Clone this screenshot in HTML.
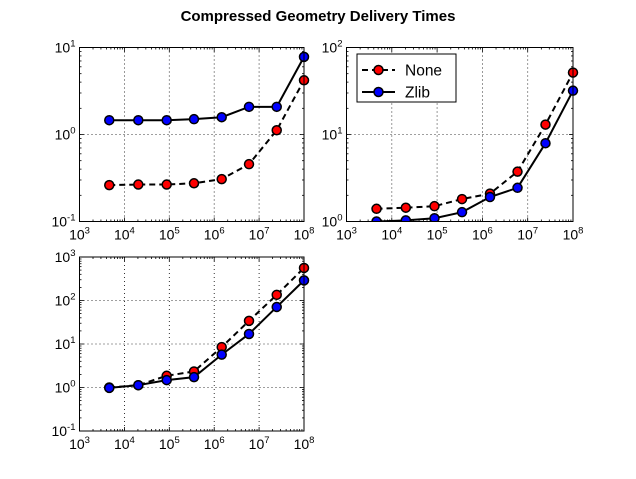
<!DOCTYPE html>
<html><head><meta charset="utf-8"><style>
body{margin:0;background:#fff}
svg{display:block;font-family:"Liberation Sans","DejaVu Sans",sans-serif}
</style></head><body>
<svg id="fig" width="636" height="479" viewBox="0 0 636 479" xmlns="http://www.w3.org/2000/svg">
<rect width="636" height="479" fill="#fff"/>
<text x="318" y="21" text-anchor="middle" font-size="15" font-weight="bold">Compressed Geometry Delivery Times</text>
</svg>
<script>
const sizes = [4600, 20400, 87500, 355000, 1470000, 5960000, 24700000, 100000000];
const p1None = [0.262, 0.266, 0.266, 0.275, 0.307, 0.456, 1.12, 4.2];
const p1Zlib = [1.46, 1.46, 1.46, 1.50, 1.58, 2.08, 2.08, 7.8];
const p2None = [1.40, 1.44, 1.50, 1.81, 2.09, 3.74, 13.0, 51.5];
const p2Zlib = [1.0, 1.03, 1.09, 1.28, 1.91, 2.44, 7.94, 31.9];
const p3None = [1.0, 1.13, 1.86, 2.34, 8.5, 34, 135, 560];
const p3Zlib = [0.98, 1.13, 1.48, 1.73, 5.7, 17, 71, 290];
const xDecades = [3, 4, 5, 6, 7, 8];
const NS = "http://www.w3.org/2000/svg";
const svg = document.getElementById('fig');
function mk(tag, attrs, parent) {
  const e = document.createElementNS(NS, tag);
  for (const k in attrs) e.setAttribute(k, attrs[k]);
  (parent || svg).appendChild(e);
  return e;
}
function panel(name, L, R, T, B, yMin, yMax, none, zlib, legend) {
  const g = mk('g', {});
  
  
  const xs = v => L + (Math.log10(v) - 3) / 5 * (R - L);
  const ys = v => B - (Math.log10(v) - yMin) / (yMax - yMin) * (B - T);
  xDecades.forEach(d => {
    const x = xs(Math.pow(10, d));
    if (d > 3 && d < 8) { const ln = mk('line', {x1: x, x2: x, y1: T, y2: B, stroke: '#000', 'stroke-width': 0.8, 'stroke-dasharray': '1,3'}, g);   }
  });
  for (let d = yMin + 1; d < yMax; d++) {
    const y = ys(Math.pow(10, d));
    const ln = mk('line', {x1: L, x2: R, y1: y, y2: y, stroke: '#000', 'stroke-width': 0.8, 'stroke-dasharray': '1,3'}, g);
     
  }
  for (let d = 3; d <= 8; d++) {
    for (let m = 1; m <= 9; m++) {
      if (d === 8 && m > 1) break;
      const x = xs(m * Math.pow(10, d));
      const len = m === 1 ? 4 : 2;
      mk('line', {x1: x, x2: x, y1: B, y2: B - len, stroke: '#000', 'stroke-width': 0.8}, g);
      mk('line', {x1: x, x2: x, y1: T, y2: T + len, stroke: '#000', 'stroke-width': 0.8}, g);
    }
    const t = mk('text', {x: xs(Math.pow(10, d)), y: B + 18, 'text-anchor': 'middle', 'font-size': 14}, g);
     
    t.innerHTML = '10<tspan dy="-6" font-size="9.5">' + d + '</tspan>';
  }
  for (let d = yMin; d <= yMax; d++) {
    for (let m = 1; m <= 9; m++) {
      if (d === yMax && m > 1) break;
      const y = ys(m * Math.pow(10, d));
      const len = m === 1 ? 4 : 2;
      mk('line', {x1: L, x2: L + len, y1: y, y2: y, stroke: '#000', 'stroke-width': 0.8}, g);
      mk('line', {x1: R, x2: R - len, y1: y, y2: y, stroke: '#000', 'stroke-width': 0.8}, g);
    }
    const t = mk('text', {x: L - 4, y: ys(Math.pow(10, d)) + 5, 'text-anchor': 'end', 'font-size': 14}, g);
     
    t.innerHTML = '10<tspan dy="-6" font-size="9.5">' + d + '</tspan>';
  }
  const cid = 'c' + name;
  const cp = mk('clipPath', {id: cid}, g);
  mk('rect', {x: L - 6, y: T - 6, width: R - L + 12, height: B - T + 6}, cp);
  function series(vals, color, dash, sname) {
    const sg = mk('g', {'clip-path': 'url(#' + cid + ')'}, g);
    
    
    const pts = sizes.map((s, i) => xs(s) + ',' + ys(vals[i])).join(' ');
    mk('polyline', {points: pts, fill: 'none', stroke: '#000', 'stroke-width': 2, 'stroke-dasharray': dash}, sg);
    sizes.forEach((s, i) => {
      const c = mk('circle', {cx: xs(s), cy: ys(vals[i]), r: 4.5, fill: color, stroke: '#000', 'stroke-width': 1.5}, sg);
      
      
    });
  }
  series(none, '#f00', '6,4', 'none-series');
  series(zlib, '#00f', 'none', 'zlib-series');
  const fr = mk('rect', {x: L, y: T, width: R - L, height: B - T, fill: 'none', stroke: '#000', 'stroke-width': 1}, g);
   
  if (legend) {
    const lg = mk('g', {}, g);
    
    
    mk('rect', {x: 357, y: 54, width: 99, height: 48, fill: '#fff', stroke: '#000', 'stroke-width': 1}, lg);
    [['None', '#f00', '6,4', 70], ['Zlib', '#00f', 'none', 92]].forEach(r => {
      const e = mk('g', {}, lg);
      
      
      mk('line', {x1: 362, x2: 395, y1: r[3], y2: r[3], stroke: '#000', 'stroke-width': 2, 'stroke-dasharray': r[2]}, e);
      mk('circle', {cx: 378.5, cy: r[3], r: 4.5, fill: r[1], stroke: '#000', 'stroke-width': 1.5}, e);
      const t = mk('text', {x: 405, y: r[3] + 5.5, 'font-size': 15.5}, e);
      t.textContent = r[0];
    });
  }
}
panel('subplot-top-left', 79.5, 304, 47.5, 221.5, -1, 1, p1None, p1Zlib, false);
panel('subplot-top-right', 346.5, 573, 47.5, 221.5, 0, 2, p2None, p2Zlib, true);
panel('subplot-bottom-left', 79.5, 304, 257, 431, -1, 3, p3None, p3Zlib, false);
</script>
</body></html>
